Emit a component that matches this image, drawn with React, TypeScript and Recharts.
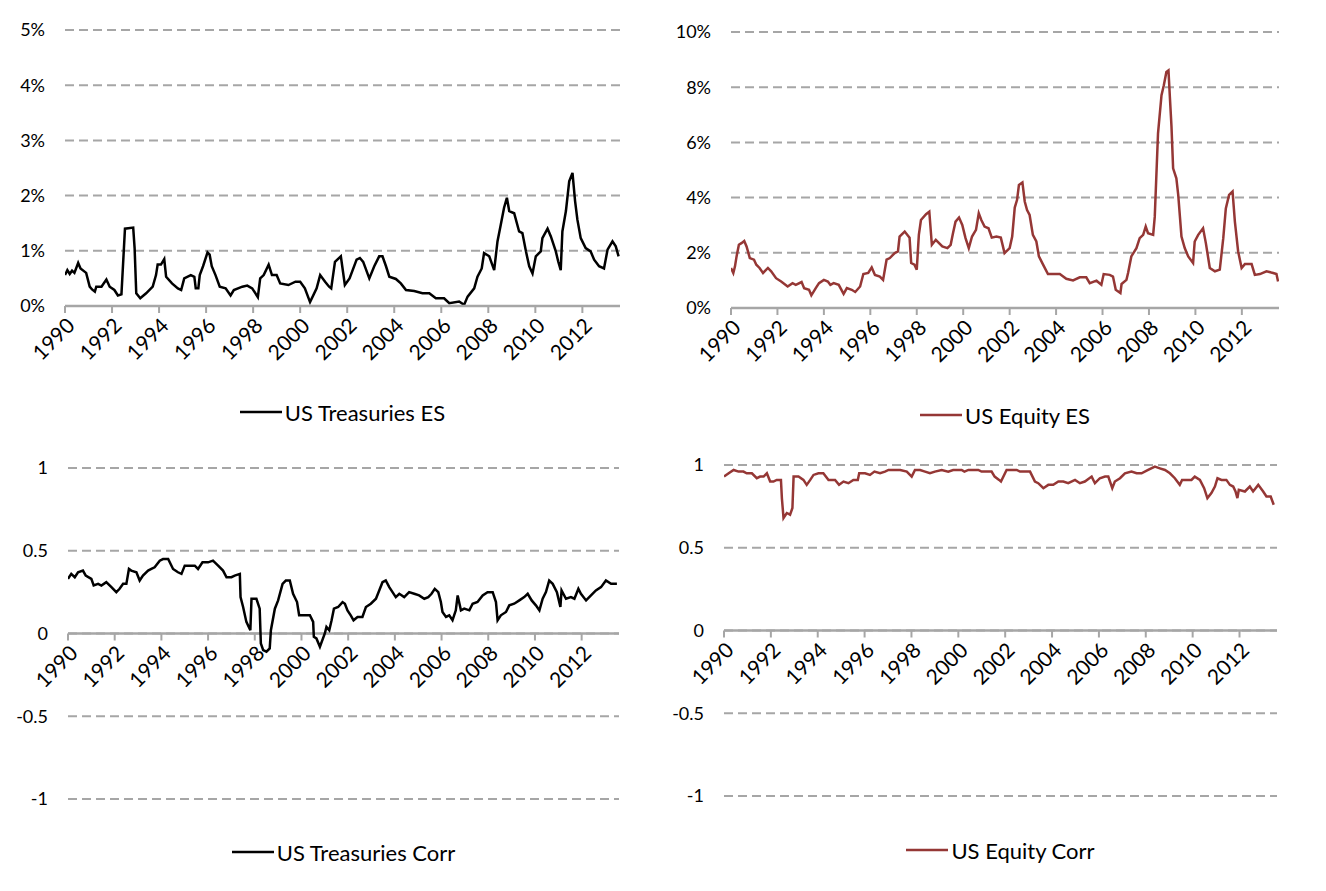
import React from "react"
import { CartesianGrid, Legend, Line, LineChart, ReferenceLine, XAxis, YAxis } from "recharts"

// [year, value]; ES values in percent
const treasuriesEs: [number, number][] = [
  [1990.0, 0.56], [1990.1, 0.65], [1990.2, 0.58], [1990.3, 0.64], [1990.4, 0.6], [1990.56, 0.78],
  [1990.66, 0.68], [1990.9, 0.6], [1991.05, 0.35], [1991.15, 0.3], [1991.27, 0.26], [1991.33, 0.35],
  [1991.55, 0.35], [1991.76, 0.48], [1991.9, 0.35], [1992.1, 0.29], [1992.25, 0.19], [1992.4, 0.21],
  [1992.55, 1.4], [1992.9, 1.42], [1992.96, 1.05], [1993.03, 0.23], [1993.2, 0.14], [1993.45, 0.23],
  [1993.73, 0.35], [1993.87, 0.56], [1993.94, 0.75], [1994.08, 0.75], [1994.22, 0.85], [1994.3, 0.53],
  [1994.55, 0.41], [1994.8, 0.32], [1994.94, 0.29], [1995.07, 0.5], [1995.35, 0.56], [1995.5, 0.53],
  [1995.56, 0.32], [1995.67, 0.32], [1995.73, 0.56], [1995.87, 0.72], [1996.06, 0.97], [1996.15, 0.93],
  [1996.24, 0.72], [1996.4, 0.56], [1996.58, 0.35], [1996.83, 0.32], [1997.04, 0.19], [1997.18, 0.29],
  [1997.54, 0.35], [1997.75, 0.37], [1997.96, 0.32], [1998.2, 0.16], [1998.3, 0.5], [1998.45, 0.56],
  [1998.66, 0.75], [1998.8, 0.56], [1999.0, 0.56], [1999.15, 0.41], [1999.5, 0.38], [1999.8, 0.44],
  [2000.0, 0.44], [2000.2, 0.32], [2000.42, 0.07], [2000.7, 0.32], [2000.85, 0.56], [2001.06, 0.44],
  [2001.23, 0.35], [2001.32, 0.32], [2001.48, 0.8], [2001.73, 0.9], [2001.9, 0.38], [2002.1, 0.5],
  [2002.4, 0.84], [2002.54, 0.87], [2002.68, 0.8], [2002.94, 0.5], [2003.15, 0.72], [2003.36, 0.9],
  [2003.5, 0.9], [2003.65, 0.72], [2003.79, 0.53], [2004.07, 0.49], [2004.28, 0.41], [2004.5, 0.29],
  [2004.85, 0.27], [2005.2, 0.23], [2005.49, 0.23], [2005.77, 0.14], [2006.12, 0.14], [2006.34, 0.05],
  [2006.76, 0.08], [2006.97, 0.02], [2007.12, 0.17], [2007.4, 0.32], [2007.54, 0.53], [2007.72, 0.68],
  [2007.82, 0.96], [2008.04, 0.9], [2008.25, 0.65], [2008.39, 1.17], [2008.53, 1.47], [2008.67, 1.78],
  [2008.79, 1.96], [2008.89, 1.72], [2009.1, 1.68], [2009.31, 1.35], [2009.45, 1.32], [2009.6, 0.99],
  [2009.74, 0.72], [2009.88, 0.59], [2010.02, 0.9], [2010.23, 0.99], [2010.3, 1.23], [2010.52, 1.4],
  [2010.66, 1.26], [2010.87, 0.99], [2010.97, 0.81], [2011.08, 0.65], [2011.15, 1.35], [2011.3, 1.72],
  [2011.44, 2.26], [2011.58, 2.41], [2011.69, 1.9], [2011.79, 1.56], [2011.93, 1.23], [2012.14, 1.05],
  [2012.35, 0.99], [2012.5, 0.84], [2012.71, 0.72], [2012.92, 0.68], [2013.07, 1.02], [2013.28, 1.17],
  [2013.42, 1.08], [2013.54, 0.9],
]

const equityEs: [number, number][] = [
  [1990.0, 1.45], [1990.1, 1.27], [1990.17, 1.5], [1990.24, 1.87], [1990.34, 2.29], [1990.45, 2.35],
  [1990.57, 2.43], [1990.67, 2.23], [1990.81, 1.81], [1990.99, 1.75], [1991.09, 1.57], [1991.23, 1.45],
  [1991.38, 1.27], [1991.59, 1.45], [1991.73, 1.33], [1991.94, 1.08], [1992.16, 0.96], [1992.44, 0.78],
  [1992.65, 0.9], [1992.79, 0.84], [1993.04, 0.94], [1993.15, 0.72], [1993.36, 0.66], [1993.46, 0.46],
  [1993.65, 0.72], [1993.79, 0.9], [1994.0, 1.02], [1994.17, 0.96], [1994.28, 0.84], [1994.42, 0.9],
  [1994.64, 0.84], [1994.85, 0.51], [1994.99, 0.72], [1995.2, 0.66], [1995.35, 0.58], [1995.56, 0.78],
  [1995.7, 1.23], [1995.91, 1.27], [1996.06, 1.47], [1996.2, 1.2], [1996.41, 1.14], [1996.55, 1.02],
  [1996.7, 1.75], [1996.84, 1.81], [1997.05, 1.99], [1997.19, 2.05], [1997.26, 2.59], [1997.48, 2.77],
  [1997.69, 2.55], [1997.76, 1.63], [1997.9, 1.57], [1998.0, 1.39], [1998.09, 2.65], [1998.18, 3.19],
  [1998.4, 3.4], [1998.54, 3.49], [1998.65, 2.29], [1998.82, 2.47], [1999.1, 2.23], [1999.32, 2.17],
  [1999.46, 2.29], [1999.56, 2.71], [1999.67, 3.13], [1999.82, 3.28], [1999.96, 3.01], [2000.1, 2.53],
  [2000.24, 2.17], [2000.38, 2.59], [2000.55, 2.83], [2000.67, 3.43], [2000.78, 3.19], [2000.92, 2.95],
  [2001.09, 2.89], [2001.23, 2.55], [2001.43, 2.59], [2001.62, 2.55], [2001.78, 1.99], [2002.0, 2.17],
  [2002.11, 2.59], [2002.22, 3.64], [2002.32, 3.92], [2002.4, 4.46], [2002.55, 4.55], [2002.65, 3.86],
  [2002.75, 3.55], [2002.86, 3.37], [2003.0, 2.65], [2003.15, 2.41], [2003.26, 1.87], [2003.44, 1.57],
  [2003.65, 1.23], [2003.87, 1.23], [2004.16, 1.23], [2004.44, 1.06], [2004.73, 1.0], [2005.02, 1.11],
  [2005.3, 1.11], [2005.45, 0.9], [2005.74, 0.99], [2005.95, 0.84], [2006.05, 1.23], [2006.31, 1.2],
  [2006.45, 1.14], [2006.57, 0.66], [2006.77, 0.54], [2006.82, 0.87], [2007.03, 1.02], [2007.1, 1.27],
  [2007.24, 1.87], [2007.46, 2.17], [2007.6, 2.53], [2007.75, 2.65], [2007.86, 2.95], [2007.96, 2.71],
  [2008.18, 2.65], [2008.25, 3.31], [2008.39, 6.33], [2008.54, 7.71], [2008.64, 8.07], [2008.75, 8.55],
  [2008.84, 8.61], [2008.9, 7.65], [2008.97, 6.57], [2009.04, 5.06], [2009.18, 4.7], [2009.26, 4.1],
  [2009.4, 2.59], [2009.54, 2.17], [2009.69, 1.87], [2009.9, 1.63], [2009.97, 2.41], [2010.12, 2.65],
  [2010.33, 2.89], [2010.45, 2.35], [2010.62, 1.45], [2010.84, 1.33], [2011.05, 1.39], [2011.2, 2.53],
  [2011.31, 3.61], [2011.45, 4.1], [2011.6, 4.22], [2011.7, 3.13], [2011.84, 2.05], [2011.99, 1.45],
  [2012.13, 1.59], [2012.42, 1.59], [2012.56, 1.2], [2012.78, 1.23], [2013.06, 1.33], [2013.35, 1.27],
  [2013.49, 1.23], [2013.56, 0.96],
]

const treasuriesCorr: [number, number][] = [
  [1990.0, 0.33], [1990.14, 0.36], [1990.29, 0.34], [1990.43, 0.37], [1990.64, 0.38], [1990.76, 0.35],
  [1991.0, 0.33], [1991.1, 0.29], [1991.29, 0.3], [1991.43, 0.29], [1991.64, 0.31], [1991.86, 0.28],
  [1992.07, 0.25], [1992.21, 0.27], [1992.36, 0.3], [1992.5, 0.3], [1992.61, 0.39], [1992.71, 0.38],
  [1992.93, 0.37], [1993.07, 0.32], [1993.21, 0.35], [1993.43, 0.38], [1993.57, 0.39], [1993.71, 0.4],
  [1993.93, 0.44], [1994.07, 0.45], [1994.29, 0.45], [1994.5, 0.39], [1994.71, 0.37], [1994.86, 0.36],
  [1995.0, 0.41], [1995.21, 0.41], [1995.43, 0.41], [1995.57, 0.39], [1995.76, 0.43], [1996.0, 0.43],
  [1996.21, 0.44], [1996.43, 0.41], [1996.64, 0.38], [1996.79, 0.34], [1997.0, 0.34], [1997.14, 0.35],
  [1997.36, 0.36], [1997.39, 0.22], [1997.5, 0.16], [1997.64, 0.07], [1997.81, 0.02], [1997.86, 0.21],
  [1998.07, 0.21], [1998.21, 0.15], [1998.26, -0.06], [1998.36, -0.1], [1998.5, -0.11], [1998.64, -0.09],
  [1998.69, 0.02], [1998.86, 0.15], [1999.0, 0.2], [1999.19, 0.3], [1999.33, 0.32], [1999.5, 0.32],
  [1999.64, 0.24], [1999.81, 0.19], [1999.9, 0.11], [2000.14, 0.11], [2000.36, 0.11], [2000.5, 0.07],
  [2000.53, -0.02], [2000.64, -0.03], [2000.79, -0.08], [2001.0, 0.0], [2001.07, 0.04], [2001.19, 0.02],
  [2001.29, 0.08], [2001.39, 0.15], [2001.57, 0.16], [2001.76, 0.19], [2001.86, 0.18], [2001.97, 0.14],
  [2002.11, 0.11], [2002.23, 0.08], [2002.4, 0.1], [2002.61, 0.1], [2002.76, 0.16], [2002.97, 0.18],
  [2003.19, 0.21], [2003.33, 0.26], [2003.47, 0.31], [2003.61, 0.32], [2003.76, 0.28], [2003.9, 0.25],
  [2004.04, 0.22], [2004.19, 0.24], [2004.4, 0.22], [2004.61, 0.25], [2004.83, 0.24], [2005.04, 0.23],
  [2005.26, 0.21], [2005.43, 0.22], [2005.57, 0.24], [2005.71, 0.27], [2005.86, 0.25], [2005.97, 0.19],
  [2006.04, 0.13], [2006.19, 0.1], [2006.33, 0.11], [2006.47, 0.08], [2006.61, 0.14], [2006.69, 0.23],
  [2006.83, 0.14], [2006.97, 0.15], [2007.19, 0.14], [2007.33, 0.18], [2007.54, 0.19], [2007.76, 0.23],
  [2007.97, 0.25], [2008.19, 0.25], [2008.33, 0.19], [2008.4, 0.08], [2008.54, 0.11], [2008.76, 0.13],
  [2008.9, 0.17], [2009.11, 0.18], [2009.33, 0.2], [2009.54, 0.22], [2009.69, 0.24], [2009.86, 0.2],
  [2010.04, 0.17], [2010.19, 0.14], [2010.33, 0.21], [2010.47, 0.25], [2010.61, 0.32], [2010.76, 0.3],
  [2010.94, 0.25], [2011.09, 0.16], [2011.14, 0.26], [2011.33, 0.21], [2011.54, 0.22], [2011.69, 0.21],
  [2011.86, 0.27], [2011.97, 0.24], [2012.19, 0.2], [2012.4, 0.23], [2012.61, 0.26], [2012.83, 0.28],
  [2013.04, 0.32], [2013.26, 0.3], [2013.51, 0.3],
]

const equityCorr: [number, number][] = [
  [1990.0, 0.93], [1990.2, 0.95], [1990.41, 0.97], [1990.62, 0.96], [1990.83, 0.96], [1990.97, 0.95],
  [1991.19, 0.95], [1991.4, 0.92], [1991.54, 0.93], [1991.69, 0.93], [1991.83, 0.95], [1991.97, 0.9],
  [1992.11, 0.9], [1992.25, 0.91], [1992.43, 0.91], [1992.47, 0.8], [1992.54, 0.68], [1992.68, 0.71],
  [1992.82, 0.7], [1992.92, 0.74], [1992.97, 0.93], [1993.18, 0.93], [1993.39, 0.91], [1993.53, 0.88],
  [1993.68, 0.91], [1993.82, 0.94], [1994.03, 0.95], [1994.24, 0.95], [1994.46, 0.91], [1994.74, 0.91],
  [1994.91, 0.88], [1995.1, 0.9], [1995.31, 0.89], [1995.52, 0.91], [1995.71, 0.91], [1995.77, 0.95],
  [1996.02, 0.95], [1996.23, 0.94], [1996.42, 0.96], [1996.66, 0.95], [1996.87, 0.96], [1997.02, 0.97],
  [1997.52, 0.97], [1997.8, 0.96], [1998.01, 0.93], [1998.15, 0.97], [1998.37, 0.97], [1998.58, 0.96],
  [1998.79, 0.95], [1999.0, 0.96], [1999.29, 0.97], [1999.57, 0.96], [1999.78, 0.97], [2000.14, 0.97],
  [2000.26, 0.96], [2000.43, 0.97], [2000.85, 0.97], [2000.99, 0.96], [2001.42, 0.96], [2001.55, 0.93],
  [2001.74, 0.91], [2001.82, 0.9], [2002.06, 0.97], [2002.49, 0.97], [2002.63, 0.96], [2003.06, 0.96],
  [2003.27, 0.9], [2003.41, 0.89], [2003.63, 0.86], [2003.84, 0.88], [2004.05, 0.88], [2004.27, 0.9],
  [2004.48, 0.9], [2004.69, 0.89], [2004.98, 0.91], [2005.19, 0.89], [2005.4, 0.9], [2005.69, 0.93],
  [2005.83, 0.89], [2006.04, 0.92], [2006.26, 0.93], [2006.4, 0.93], [2006.57, 0.86], [2006.68, 0.9],
  [2006.9, 0.92], [2007.11, 0.95], [2007.39, 0.96], [2007.61, 0.95], [2007.82, 0.95], [2008.1, 0.97],
  [2008.39, 0.99], [2008.6, 0.98], [2008.82, 0.97], [2009.03, 0.95], [2009.24, 0.92], [2009.45, 0.88],
  [2009.55, 0.91], [2009.95, 0.91], [2010.09, 0.93], [2010.31, 0.91], [2010.49, 0.86], [2010.63, 0.8],
  [2010.8, 0.83], [2010.95, 0.87], [2011.06, 0.92], [2011.23, 0.91], [2011.44, 0.91], [2011.59, 0.88],
  [2011.73, 0.87], [2011.83, 0.84], [2011.91, 0.8], [2011.97, 0.85], [2012.23, 0.84], [2012.44, 0.87],
  [2012.58, 0.84], [2012.8, 0.88], [2013.01, 0.84], [2013.15, 0.81], [2013.33, 0.81], [2013.46, 0.76],
]

const yearTicks = [1990, 1992, 1994, 1996, 1998, 2000, 2002, 2004, 2006, 2008, 2010, 2012]
const treasuriesEsTicks = [0, 1, 2, 3, 4, 5]
const equityEsTicks = [0, 2, 4, 6, 8, 10]
const corrTicks = [-1, -0.5, 0, 0.5, 1]

const FONT = "Lato, 'Open Sans', sans-serif"
const AXIS = "#a6a6a6"
const BLACK = "#000000"
const MAROON = "#953735"

type PanelProps = {
  points: [number, number][]
  name: string
  color: string
  left: number
  top: number
  width: number
  height: number
  margin: { top: number; right: number; bottom: number; left: number }
  xAxisHeight: number
  yDomain: [number, number]
  yTicks: number[]
  percent: boolean
  zeroShift: number // distance from plot bottom up to the zero line
  legendTop: number
}

function YearTick(props: any) {
  const { x, y, payload, shift } = props
  const ay = y - shift
  const tx = x + 11
  const ty = ay + 21
  return (
    <g>
      <line stroke={AXIS} strokeWidth={2} x1={x} x2={x} y1={ay} y2={ay + 7} />
      <text
        fill="#000"
        fontSize={21}
        textAnchor="end"
        transform={`rotate(-45 ${tx} ${ty})`}
        x={tx}
        y={ty}
      >
        {payload.value}
      </text>
    </g>
  )
}

function Panel(p: PanelProps) {
  const data = p.points.map(([year, value]) => ({ year, value }))
  const plotLeft = p.margin.left + 60
  const plotWidth = p.width - plotLeft - p.margin.right

  return (
    <div style={{ position: "absolute", left: p.left, top: p.top }}>
      <LineChart data={data} height={p.height} margin={p.margin} width={p.width}>
        <CartesianGrid stroke={AXIS} strokeDasharray="9 5" strokeWidth={2} vertical={false} />
        <XAxis
          allowDataOverflow
          axisLine={p.zeroShift === 0 ? { stroke: AXIS, strokeWidth: 2.5 } : false}
          dataKey="year"
          domain={[1990, 2013.6]}
          height={p.xAxisHeight}
          interval={0}
          tick={(t: any) => <YearTick {...t} shift={p.zeroShift} />}
          tickLine={false}
          tickMargin={0}
          tickSize={0}
          ticks={yearTicks}
          type="number"
        />
        <YAxis
          axisLine={false}
          domain={p.yDomain}
          interval={0}
          tick={{ fill: "#000", fontSize: 18 }}
          tickFormatter={(v: number) => (p.percent ? `${v}%` : String(v))}
          tickLine={false}
          tickMargin={20}
          tickSize={0}
          ticks={p.yTicks}
          type="number"
          width={60}
        />
        {p.zeroShift !== 0 && <ReferenceLine stroke={AXIS} strokeWidth={2.5} y={0} />}
        <Line
          dataKey="value"
          dot={false}
          isAnimationActive={false}
          name={p.name}
          stroke={p.color}
          strokeWidth={2.5}
          type="linear"
        />
        <Legend
          content={(lp: any) => {
            const item = lp.payload?.[0]
            return (
              <div
                style={{
                  alignItems: "center",
                  color: "#000",
                  display: "flex",
                  fontSize: 22,
                  height: 26,
                  justifyContent: "center",
                }}
              >
                <svg height={6} width={42}>
                  <line stroke={item?.color ?? p.color} strokeWidth={2.5} x1={0} x2={42} y1={3} y2={3} />
                </svg>
                <span style={{ marginLeft: 3 }}>{item?.value ?? p.name}</span>
              </div>
            )
          }}
          verticalAlign="bottom"
          wrapperStyle={{ left: plotLeft, top: p.legendTop, width: plotWidth }}
        />
      </LineChart>
    </div>
  )
}

export default function App() {
  return (
    <div
      style={{
        background: "#fff",
        fontFamily: FONT,
        height: 891,
        left: 0,
        position: "absolute",
        top: 0,
        width: 1326,
      }}
    >
      <Panel
        color={BLACK}
        height={440}
        left={0}
        legendTop={399}
        margin={{ top: 30, right: 40, bottom: 10, left: 5 }}
        name="US Treasuries ES"
        percent
        points={treasuriesEs}
        top={0}
        width={660}
        xAxisHeight={98}
        yDomain={[0, 5]}
        yTicks={treasuriesEsTicks}
        zeroShift={0}
      />
      <Panel
        color={MAROON}
        height={440}
        left={660}
        legendTop={402}
        margin={{ top: 32, right: 47, bottom: 10, left: 11 }}
        name="US Equity ES"
        percent
        points={equityEs}
        top={0}
        width={666}
        xAxisHeight={96}
        yDomain={[0, 10]}
        yTicks={equityEsTicks}
        zeroShift={0}
      />
      <Panel
        color={BLACK}
        height={451}
        left={0}
        legendTop={399}
        margin={{ top: 28, right: 41, bottom: 10, left: 8 }}
        name="US Treasuries Corr"
        percent={false}
        points={treasuriesCorr}
        top={440}
        width={660}
        xAxisHeight={56}
        yDomain={[-1, 1]}
        yTicks={corrTicks}
        zeroShift={165.5}
      />
      <Panel
        color={MAROON}
        height={451}
        left={660}
        legendTop={397}
        margin={{ top: 25, right: 49, bottom: 10, left: 4 }}
        name="US Equity Corr"
        percent={false}
        points={equityCorr}
        top={440}
        width={666}
        xAxisHeight={59}
        yDomain={[-1, 1]}
        yTicks={corrTicks}
        zeroShift={165.5}
      />
    </div>
  )
}
